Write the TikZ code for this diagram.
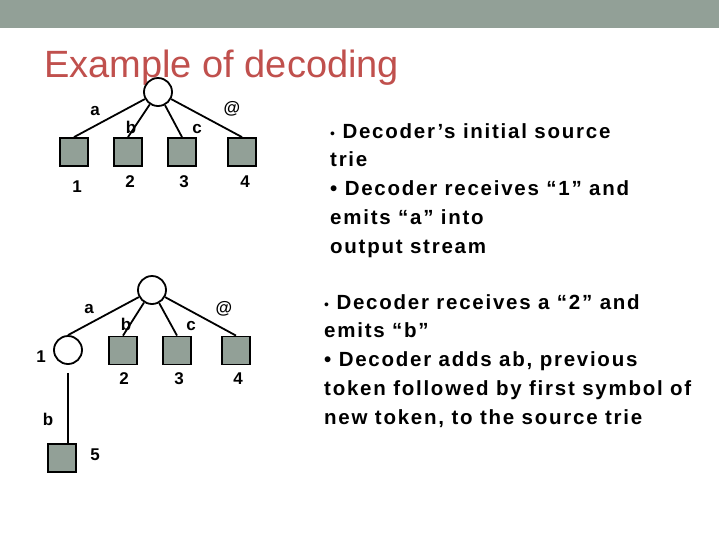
\documentclass[tikz,border=0pt]{standalone}
\usepackage{fontspec}
\setmainfont{Liberation Sans}
\newfontfamily\spacedfont[LetterSpace=8.5]{Liberation Sans}
\usetikzlibrary{positioning}
\definecolor{bandgray}{RGB}{146,160,151}
\definecolor{leafgray}{RGB}{146,160,151}
\definecolor{titlered}{RGB}{192,80,77}

\begin{document}
\begin{tikzpicture}[x=1pt, y=-1pt,
  inode/.style={circle, draw, line width=1.8pt, minimum size=28pt, inner sep=0pt},
  leaf/.style={rectangle, draw, fill=leafgray, line width=1.8pt, minimum size=28pt, inner sep=0pt},
  lbl/.style={anchor=base, inner sep=0pt, font=\bfseries\fontsize{17}{17}\selectfont},
  edge/.style={line width=1.8pt},
  note/.style={anchor=north west, inner sep=0pt, align=left,
               font=\spacedfont\bfseries\fontsize{20.5}{28.8}\selectfont}]

  \useasboundingbox (0,0) rectangle (719,539);
  \fill[bandgray] (0,0) rectangle (719,28);
  \node[anchor=base west, inner sep=0pt, text=titlered, font=\fontsize{38}{38}\selectfont]
    (title) at (44,77) {Example of decoding};

  % initial trie
  \node[inode] (r1) at (158,92) {};
  \node[leaf] (l11) at (74,152) {};
  \node[leaf] (l12) at (128,152) {};
  \node[leaf] (l13) at (182,152) {};
  \node[leaf] (l14) at (242,152) {};
  \draw[edge] (r1) -- (l11.north);
  \draw[edge] (r1) -- (l12.north);
  \draw[edge] (r1) -- (l13.north);
  \draw[edge] (r1) -- (l14.north);
  \node[lbl] (e11) at (95,115) {a};
  \node[lbl] (e12) at (131,133) {b};
  \node[lbl] (e13) at (197,133) {c};
  \node[lbl] (e14) at (232,113) {@};
  \node[lbl] (k11) at (77,192) {1};
  \node[lbl] (k12) at (130,187) {2};
  \node[lbl] (k13) at (184,187) {3};
  \node[lbl] (k14) at (245,187) {4};

  % trie after adding ab
  \node[inode] (r2) at (152,290) {};
  \node[inode] (n1) at (68,350) {};
  \node[leaf] (l22) at (123,350.5) {};
  \node[leaf] (l23) at (177,350.5) {};
  \node[leaf] (l24) at (236,350.5) {};
  \node[leaf] (l25) at (62,458) {};
  \draw[edge] (r2) -- (n1.north);
  \draw[edge] (r2) -- (l22.north);
  \draw[edge] (r2) -- (l23.north);
  \draw[edge] (r2) -- (l24.north);
  \draw[edge, shorten <=8pt] (n1.south) -- (n1.south |- l25.north);
  \node[lbl] (e21) at (89,313) {a};
  \node[lbl] (e22) at (126,330) {b};
  \node[lbl] (e23) at (191,330) {c};
  \node[lbl] (e24) at (224,313) {@};
  \node[lbl] (e25) at (48,425) {b};
  \node[lbl] (k21) at (41,362) {1};
  \node[lbl] (k22) at (124,384) {2};
  \node[lbl] (k23) at (179,384) {3};
  \node[lbl] (k24) at (238,384) {4};
  \node[lbl] (k25) at (95,460) {5};

  % notes
  \node[note] (t1) at (330,123) {{\mdseries\fontsize{14}{14}\selectfont•} Decoder’s initial source\\
    trie\\• Decoder receives “1” and\\emits “a” into\\output stream};
  \node[note] (t2) at (324,294) {{\mdseries\fontsize{14}{14}\selectfont•} Decoder receives a “2” and\\
    emits “b”\\• Decoder adds ab, previous\\token followed by first symbol of\\new token, to the source trie};
\end{tikzpicture}
\end{document}
